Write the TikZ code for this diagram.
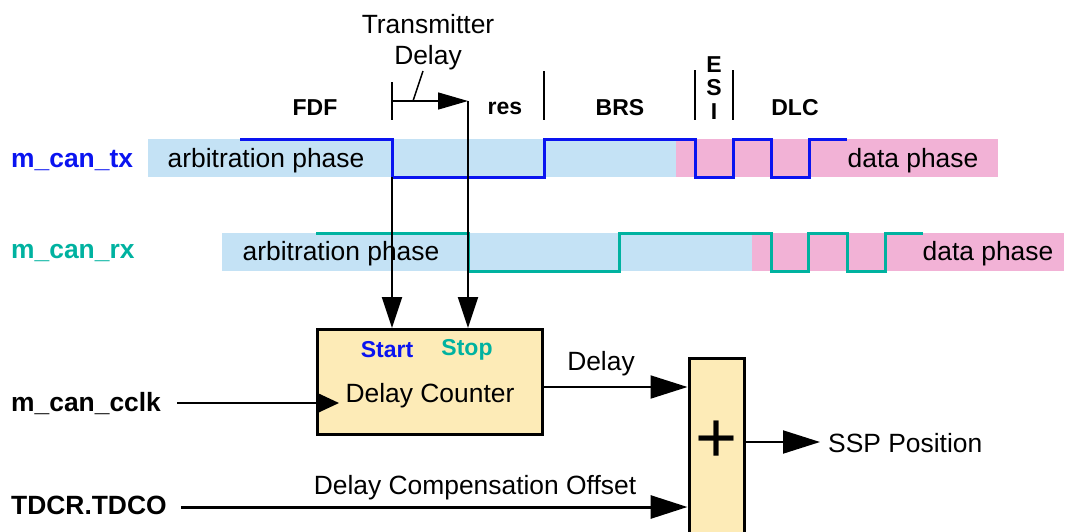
\documentclass[tikz,border=0pt]{standalone}
\usepackage{fontspec}
\setmainfont{Liberation Sans}
\usetikzlibrary{arrows.meta,calc}
\definecolor{txblue}{HTML}{0A14F0}
\definecolor{rxteal}{HTML}{00B2A0}
\definecolor{arbblue}{HTML}{C4E2F5}
\definecolor{datapink}{HTML}{F2B2D6}
\definecolor{cntyellow}{HTML}{FDEBB7}
\newcommand{\lblfont}{\fontsize{26.4}{31}\selectfont}
\newcommand{\fldfont}{\fontsize{23}{23.5}\selectfont\bfseries}

\begin{document}
\begin{tikzpicture}[
  x=1pt, y=-1pt,
  lbl/.style={font=\lblfont, inner sep=2pt},
  signame/.style={font=\lblfont\bfseries, anchor=west, inner sep=2pt},
  field/.style={font=\fldfont, inner sep=1pt},
  txsig/.style={txblue, line width=3pt},
  rxsig/.style={rxteal, line width=3pt},
  tick/.style={line width=1.5pt},
  arr/.style={-{Triangle[length=31pt,width=20pt]}, line width=2pt},
  smallarr/.style={-{Triangle[length=30pt,width=17pt]}, line width=1.5pt},
  bigarr/.style={-{Triangle[length=37pt,width=23pt]}, line width=2pt},
  clkarr/.style={-{Triangle[length=23pt,width=21pt]}, line width=2pt},
  blk/.style={draw, line width=3pt, fill=cntyellow}
]
\useasboundingbox (0,0) rectangle (1065,531);
\clip (0,0) rectangle (1065,531);

% phase bands
\fill[arbblue] (148,139) rectangle (676,177);
\fill[datapink] (676,139) rectangle (998,177);
\fill[arbblue] (222,233) rectangle (752,271);
\fill[datapink] (752,233) rectangle (1064,271);

% signal names
\node[signame, text=txblue] (tx) at (9,160) {m\_can\_tx};
\node[signame, text=rxteal] (rx) at (9,253) {m\_can\_rx};
\node[signame] (cclk) at (9,404) {m\_can\_cclk};
\node[signame] (tdco) at (9,505) {TDCR.TDCO};

% phase texts
\node[lbl] (txarb) at (266,161) {arbitration phase};
\node[lbl] (txdata) at (913,161) {data phase};
\node[lbl] (rxarb) at (341,254) {arbitration phase};
\node[lbl] (rxdata) at (988,254) {data phase};

% bit fields
\node[field] (fdf) at (315,108) {FDF};
\node[field] (res) at (505,108) {res};
\node[field] (brs) at (620,108) {BRS};
\node[field, align=center] (esi) at (714,88) {E\\S\\I};
\node[field] (dlc) at (795,108) {DLC};
\draw[tick] (392,82) -- (392,120);
\draw[tick] (544,71) -- (544,120);
\draw[tick] (695,70) -- (695,120);
\draw[tick] (733,70) -- (733,120);

% waveforms
\draw[txsig] (240,139) -| (392,177) -| (544,139) -| (695,177) -| (733,139)
  -| (771,177) -| (809,139) -- (847,139);
\draw[rxsig] (316,233) -| (468,271) -| (619,233) -| (771,271) -| (808,233)
  -| (847,271) -| (885,233) -- (923,233);

% transmitter delay
\node[lbl, align=center] (tdlbl) at (428,42) {Transmitter\\Delay};
\coordinate (tdstart) at (392,101);
\coordinate (tdend) at (468,101);
\coordinate (ldrtop) at (423,71);
\coordinate (ldrbot) at (413,101);
\draw[smallarr] (tdstart) -- (tdend);
\draw[tick] (ldrtop) -- (ldrbot);

% blocks
\node[blk, minimum width=225pt, minimum height=105pt] (cnt) at (430,382) {};
\node[field, text=txblue] (start) at (387,350) {Start};
\node[field, text=rxteal] (stop) at (467,350) {Stop};
\node[lbl] (cntlbl) at (430,396) {Delay Counter};
\node[blk, minimum width=55pt, minimum height=190pt] (add) at (716.5,453) {};
\node[font=\fontsize{72}{72}\selectfont, inner sep=0pt] (plus) at (717,442) {+};

% connections
\coordinate (txedge) at (392,177);
\draw[arr] (txedge) -- (cnt.north -| txedge);
\draw[arr] (tdend) -- (cnt.north -| tdend);
\draw[clkarr, shorten <=14pt] (cclk.east |- 0,403) -- ($(cnt.west)+(23,21)$);
\coordinate (dly) at (601,387);
\draw[bigarr] (cnt.east |- dly) -- (add.west |- dly);
\node[lbl] (dlylbl) at (601,364) {Delay};
\coordinate (ofs) at (475,507);
\draw[bigarr, line width=3pt, shorten <=12pt] (tdco.east |- ofs) -- (add.west |- ofs);
\node[lbl] (ofslbl) at (475,488) {Delay Compensation Offset};
\node[lbl, anchor=west, inner xsep=8pt] (ssp) at (820,443) {SSP Position};
\draw[bigarr] (add.east |- 0,442) -- (ssp.west |- 0,442);
\end{tikzpicture}
\end{document}
